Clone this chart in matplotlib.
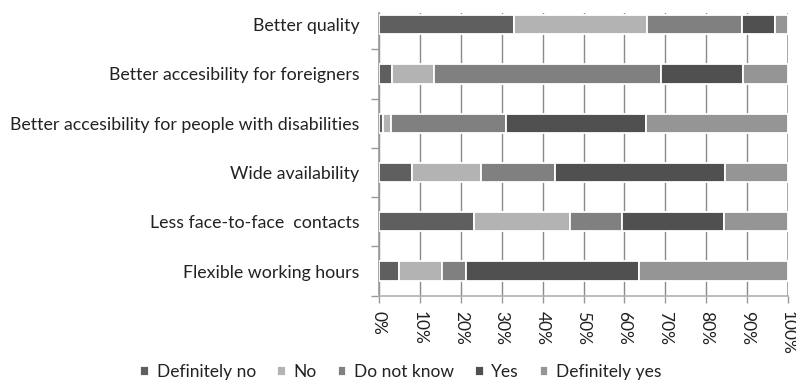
import matplotlib.pyplot as plt
import matplotlib.patheffects as pe
import numpy as np

# survey answers, percent of respondents per statement
categories = [
    "Better quality",
    "Better accesibility for foreigners",
    "Better accesibility for people with disabilities",
    "Wide availability",
    "Less face-to-face  contacts",
    "Flexible working hours",
]
answers = ["Definitely no", "No", "Do not know", "Yes", "Definitely yes"]
definitely_no = [33.0, 3.3, 1.0, 8.0, 23.3, 5.0]
no = [32.5, 10.2, 2.0, 17.0, 23.3, 10.4]
do_not_know = [23.3, 55.4, 28.0, 18.0, 12.7, 5.8]
yes = [8.0, 20.2, 34.2, 41.7, 25.1, 42.3]
definitely_yes = [3.2, 10.9, 34.8, 15.3, 15.6, 36.5]
colors = ["#5f5f5f", "#b3b3b3", "#808080", "#505050", "#959595"]

plt.rcParams['font.family'] = ['Lato', 'DejaVu Sans']

fig = plt.figure(figsize=(7.96, 3.83), dpi=100)
ax = fig.add_axes([379 / 796, 1 - 295.7 / 383, 409 / 796, 282.7 / 383])

series = [definitely_no, no, do_not_know, yes, definitely_yes]
ypos = np.arange(len(categories))[::-1]
left = np.zeros(len(categories))
shadow = [pe.SimplePatchShadow(offset=(1.5, -2), alpha=0.12), pe.Normal()]
for vals, name, col in zip(series, answers, colors):
    vals = np.array(vals)
    bars = ax.barh(ypos, vals, left=left, height=0.39, color=col,
                   edgecolor="white", linewidth=1.3, label=name, zorder=3)
    for b in bars:
        b.set_path_effects(shadow)
    left += vals

ax.set_xlim(0, 100)
ax.set_ylim(-0.5, 5.5 - 13 / 49.3)
ax.set_xticks(np.arange(0, 101, 10))
ax.set_xticklabels([f"{v}%" for v in range(0, 101, 10)], rotation=-90, fontsize=12.5,
                   color="#222222")
ax.set_yticks(ypos)
ax.set_yticklabels(categories, fontsize=12.8, color="#222222")
ax.set_yticks(np.arange(-0.5, 5.5, 1), minor=True)
ax.tick_params(axis="y", which="major", length=0, pad=14)
ax.tick_params(axis="y", which="minor", length=6, color="#999999", width=1)
ax.tick_params(axis="x", length=5, color="#999999", width=1, pad=6)

ax.grid(axis="x", color="#8a8a8a", linewidth=1, zorder=0)
for s in ["top", "right"]:
    ax.spines[s].set_visible(False)
ax.spines["left"].set_color("#9a9a9a")
ax.spines["bottom"].set_color("#b0b0b0")
ax.spines["left"].set_linewidth(1.2)
ax.spines["bottom"].set_linewidth(1.2)
ax.axvline(100, color="#aaaaaa", linewidth=2, zorder=1)

handles, labels = ax.get_legend_handles_labels()
for h in handles:
    for b in h:
        b.set_path_effects([pe.Normal()])
fig.legend(handles, labels, loc="center", bbox_to_anchor=(401 / 796, 1 - 372 / 383),
           ncol=5, frameon=False, fontsize=12.5, handlelength=0.5, handleheight=0.5,
           handletextpad=0.45, columnspacing=1.2, labelcolor="#222222")

fig.savefig("out.png", dpi=100)
